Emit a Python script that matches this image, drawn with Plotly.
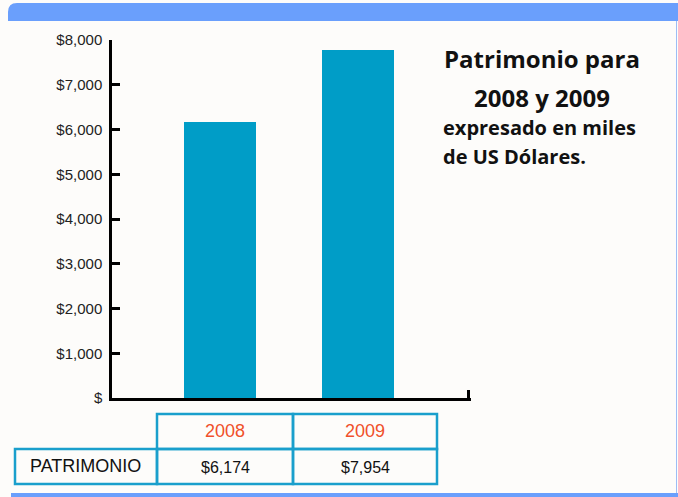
import plotly.graph_objects as go

# ---- data ----
categories = ["2008", "2009"]
bar_values = [6170, 7780]          # bar heights as drawn in the picture
table_row_label = "PATRIMONIO"
table_values = ["$6,174", "$7,954"]
y_tickvals = [0, 1000, 2000, 3000, 4000, 5000, 6000, 7000, 8000]
y_ticktext = ["$", "$1,000", "$2,000", "$3,000", "$4,000", "$5,000", "$6,000", "$7,000", "$8,000"]
title_lines = ["Patrimonio para", "2008 y 2009"]
subtitle_lines = ["expresado en miles", "de US Dólares."]

W, H = 678, 497
L, R, T, B = 112, 471, 40, 398

def px(x):
    return (x - L) / (R - L)

def py(y):
    return (B - y) / (B - T)

BAR_COLOR = "#009DC7"
BLUE = "#6A9FFC"
TBL = "#1A9FCC"
BG = "#FDFCFA"

fig = go.Figure()
fig.add_trace(go.Bar(x=[0, 1], y=bar_values, width=0.52,
                     marker=dict(color=BAR_COLOR, line=dict(width=0)),
                     hoverinfo="skip"))

shapes = []
# top banner with rounded left corner
r = 9
shapes.append(dict(type="path", xref="paper", yref="paper",
                   path=(f"M {px(8)},{py(21)} L {px(8)},{py(3+r)} "
                         f"Q {px(8)},{py(3)} {px(8+r)},{py(3)} "
                         f"L {px(678)},{py(3)} L {px(678)},{py(21)} Z"),
                   fillcolor=BLUE, line=dict(width=0), layer="above"))
# bottom blue line
shapes.append(dict(type="rect", xref="paper", yref="paper",
                   x0=px(11), x1=px(678), y0=py(493), y1=py(497),
                   fillcolor=BLUE, line=dict(width=0)))
# right thin line
shapes.append(dict(type="line", xref="paper", yref="paper",
                   x0=px(676.5), x1=px(676.5), y0=py(21), y1=py(493),
                   line=dict(color="#9DBDF5", width=1)))
# table borders
lw = 2.5
def rect(x0, y0, x1, y1):
    shapes.append(dict(type="rect", xref="paper", yref="paper",
                       x0=px(x0), x1=px(x1), y0=py(y0), y1=py(y1),
                       line=dict(color=TBL, width=lw), fillcolor="rgba(0,0,0,0)"))
rect(157, 414, 293, 449)
rect(293, 414, 437, 449)
rect(15, 449, 157, 484)
rect(157, 449, 293, 484)
rect(293, 449, 437, 484)

annotations = []
col_centers = [225, 365]
for i, c in enumerate(categories):
    annotations.append(dict(xref="paper", yref="paper", x=px(col_centers[i]), y=py(431),
                            text=c, showarrow=False, xanchor="center", yanchor="middle",
                            font=dict(family="Liberation Sans, Arial", size=18, color="#F0502A")))
    annotations.append(dict(xref="paper", yref="paper", x=px(col_centers[i]), y=py(467),
                            text=table_values[i], showarrow=False, xanchor="center", yanchor="middle",
                            font=dict(family="Liberation Sans, Arial", size=16, color="#111111")))
annotations.append(dict(xref="paper", yref="paper", x=px(85), y=py(466),
                        text=table_row_label, showarrow=False, xanchor="center", yanchor="middle",
                        font=dict(family="Liberation Sans, Arial", size=18, color="#111111")))

# titles
title_y = [58, 97]
for t, yy in zip(title_lines, title_y):
    annotations.append(dict(xref="paper", yref="paper", x=px(542), y=py(yy),
                            text=f"<b>{t}</b>", showarrow=False, xanchor="center", yanchor="middle",
                            font=dict(family="Open Sans", size=24, color="#111111")))
sub_y = [128, 156]
for t, yy in zip(subtitle_lines, sub_y):
    annotations.append(dict(xref="paper", yref="paper", x=px(441), y=py(yy),
                            text=f"<b>{t}</b>", showarrow=False, xanchor="left", yanchor="middle",
                            font=dict(family="Open Sans", size=20, color="#111111")))

fig.update_layout(
    width=W, height=H,
    margin=dict(l=L, r=W - R, t=T, b=H - B, pad=0),
    paper_bgcolor=BG, plot_bgcolor=BG,
    showlegend=False,
    bargap=0,
    shapes=shapes,
    annotations=annotations,
    xaxis=dict(range=[-0.78, 1.815], showgrid=False, zeroline=False,
               showline=True, linecolor="#000000", linewidth=2.5,
               tickvals=[1.80], ticks="inside", ticklen=8, tickwidth=2.5, tickcolor="#000000",
               showticklabels=False, fixedrange=True),
    yaxis=dict(range=[0, 8000], showgrid=False, zeroline=False,
               showline=True, linecolor="#000000", linewidth=2.5,
               tickvals=y_tickvals, ticktext=y_ticktext,
               ticks="inside", ticklen=8, tickwidth=2.5, tickcolor="#000000",
               ticklabelstandoff=4,
               tickfont=dict(family="Liberation Sans, Arial", size=15, color="#222222"),
               fixedrange=True),
)

fig.write_html("out.html", config={"displayModeBar": False},
               post_script="document.body.style.margin='0';document.body.style.overflow='hidden';")
